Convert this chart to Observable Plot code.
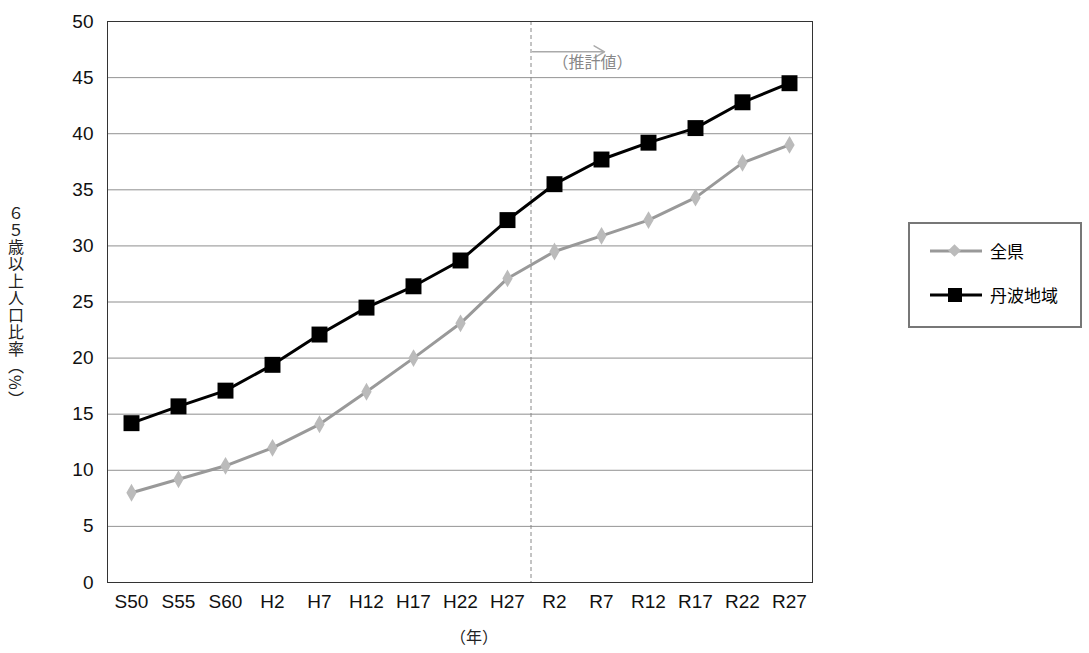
<!DOCTYPE html>
<html><head><meta charset="utf-8">
<script src="https://cdn.jsdelivr.net/npm/d3@7"></script>
<script src="https://cdn.jsdelivr.net/npm/@observablehq/plot@0.6"></script>
<style>
body{margin:0;background:#fff;font-family:"Noto Sans CJK JP","DejaVu Sans",sans-serif}
#wrap{position:relative;width:1089px;height:653px}
#ylab{position:absolute;left:4px;top:205px;writing-mode:vertical-rl;font-size:16px;color:#222;letter-spacing:1px}
#xunit{position:absolute;left:450px;top:624px;font-size:16px;color:#222}
#legend{position:absolute;left:908px;top:222px;width:174px;height:106px;border:2px solid #777;box-sizing:border-box;font-size:17px}
.row{position:absolute;left:20px;display:flex;align-items:center}
</style></head>
<body><div id="wrap"><div id="chart"></div>
<div id="ylab">６５歳以上人口比率（%）</div>
<div id="xunit">（年）</div>
<div id="legend">
<div class="row" style="top:14px"><svg width="60" height="20"><line x1="0" y1="10" x2="52" y2="10" stroke="#999" stroke-width="3"/><rect x="20" y="5" width="9" height="9" fill="#bbb" transform="rotate(45 24.5 9.5)"/></svg><span>全県</span></div>
<div class="row" style="top:58px"><svg width="60" height="20"><line x1="0" y1="10" x2="52" y2="10" stroke="#000" stroke-width="3"/><rect x="18" y="3" width="14" height="14" fill="#000"/></svg><span>丹波地域</span></div>
</div></div>
<script>
const years = ["S50","S55","S60","H2","H7","H12","H17","H22","H27","R2","R7","R12","R17","R22","R27"];
const tamba = [14.2,15.7,17.1,19.4,22.1,24.5,26.4,28.7,32.3,35.5,37.7,39.2,40.5,42.8,44.5];
const ken = [8.0,9.2,10.4,12.0,14.1,17.0,20.0,23.1,27.1,29.5,30.9,32.3,34.3,37.4,39.0];

const dKen = years.map((y,i)=>({x:y,v:ken[i]}));
const dTamba = years.map((y,i)=>({x:y,v:tamba[i]}));

const chart = Plot.plot({
  width:1089, height:653,
  marginLeft:107, marginRight:277, marginTop:21, marginBottom:71,
  style:{fontSize:"19px", fontFamily:"Liberation Sans, Arial, sans-serif", color:"#111"},
  x:{type:"point", domain:years, padding:0.45, label:null, tickSize:0, tickPadding:12},
  y:{domain:[0,50], ticks:d3.range(0,51,5), grid:true, label:null, tickSize:0, tickPadding:14},
  marks:[
    Plot.gridY(d3.range(0,51,5),{stroke:"#999", strokeOpacity:1}),
    Plot.ruleX(["H27"],{dx:23.5, stroke:"#888", strokeDasharray:"4,3"}),
    Plot.arrow([{x1:"H27",x2:"R2",y:47.3}],{x1:"x1",x2:"x2",y1:"y",y2:"y",dx:25,stroke:"#aaa",strokeWidth:1.5,headLength:12,insetEnd:-25}),
    Plot.text([{x:"R2",y:46.3}],{x:"x",y:"y",text:()=>"（推計値）",dx:38,fill:"#888",fontSize:16,fontFamily:"Noto Sans CJK JP"}),
    Plot.line(dKen,{x:"x",y:"v",stroke:"#999",strokeWidth:3}),
    Plot.dot(dKen,{x:"x",y:"v",symbol:"diamond",r:4.5,fill:"#bbb",stroke:"#bbb"}),
    Plot.line(dTamba,{x:"x",y:"v",stroke:"#000",strokeWidth:3}),
    Plot.dot(dTamba,{x:"x",y:"v",symbol:"square",r:9,fill:"#000"}),
    Plot.frame({stroke:"#333"})
  ]
});
d3.select('#chart').append(()=>chart);
</script></body></html>
